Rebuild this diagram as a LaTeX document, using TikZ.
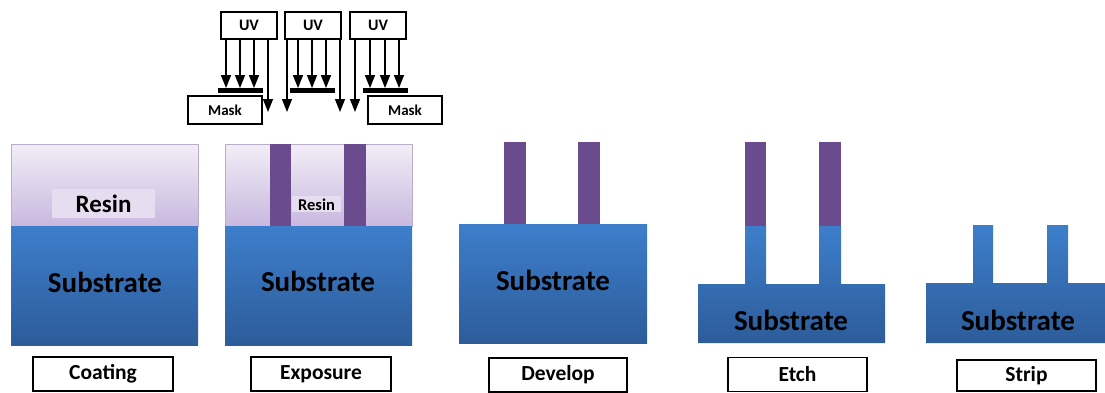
\documentclass[tikz,border=0pt]{standalone}
\usepackage{fontspec}
\setmainfont{Carlito}
\usetikzlibrary{arrows.meta}
\definecolor{subtop}{RGB}{61,126,203}
\definecolor{subbot}{RGB}{45,92,154}
\definecolor{restop}{RGB}{242,238,247}
\definecolor{resbot}{RGB}{201,184,223}
\definecolor{expcol}{RGB}{106,75,141}
\definecolor{reslab}{RGB}{230,222,240}
\tikzset{
substrate/.style={top color=subtop,bottom color=subbot},
resinlayer/.style={top color=restop,bottom color=resbot,draw=resbot!80!gray,line width=0.6pt},
exposed/.style={fill=expcol},
subtext/.style={font=\bfseries\fontsize{29}{30}\selectfont},
stepname/.style={draw,line width=1.6pt,fill=white,minimum width=140pt,minimum height=34pt,font=\bfseries\fontsize{21.5}{24}\selectfont},
uvbox/.style={draw,line width=1.5pt,fill=white,minimum width=56pt,minimum height=27pt,font=\bfseries\fontsize{16}{18}\selectfont},
maskbox/.style={draw,line width=1.5pt,fill=white,minimum width=74pt,minimum height=28pt,font=\bfseries\fontsize{15}{17}\selectfont},
maskbar/.style={fill=black,minimum width=45pt,minimum height=4.5pt,inner sep=0pt},
ray/.style={line width=1.4pt,-{Triangle[length=13pt,width=10pt]}}
}
\begin{document}
\begin{tikzpicture}[x=1pt,y=-1pt]
\useasboundingbox (0,0) rectangle (1105,392);
\node[uvbox] (uv1) at (249,25.5) {UV};
\node[uvbox] (uv2) at (313,25.5) {UV};
\node[uvbox] (uv3) at (378,25.5) {UV};
\node[maskbar] (bar1) at (240.5,90.5) {};
\node[maskbar] (bar2) at (312.5,90.5) {};
\node[maskbar] (bar3) at (385.5,90.5) {};
\node[maskbox] (mask1) at (225,110) {Mask};
\node[maskbox] (mask2) at (405,110) {Mask};
\foreach \x in {226,240,254} \draw[ray] (\x,0 |- uv1.south) -- (\x,0 |- bar1.north);
\foreach \x in {298,312,326} \draw[ray] (\x,0 |- uv2.south) -- (\x,0 |- bar2.north);
\foreach \x in {370,385,399} \draw[ray] (\x,0 |- uv3.south) -- (\x,0 |- bar3.north);
\coordinate (tip1) at (268,112);
\coordinate (tip2) at (287,112);
\coordinate (tip3) at (340,112);
\coordinate (tip4) at (355,112);
\draw[ray] (tip1 |- uv1.south) -- (tip1);
\draw[ray] (tip2 |- uv2.south) -- (tip2);
\draw[ray] (tip3 |- uv2.south) -- (tip3);
\draw[ray] (tip4 |- uv3.south) -- (tip4);

\shade[resinlayer] (11,144) rectangle (198,226);
\fill[reslab] (52,189) rectangle (155,218);
\node[font=\bfseries\fontsize{25}{26}\selectfont] (resin1) at (103.5,203.5) {Resin};
\shade[substrate] (11,226) rectangle (198,345);
\node[subtext] (sub1) at (105,282) {Substrate};
\node[stepname] (coating) at (103,374) {Coating};

\shade[resinlayer] (225,144) rectangle (412,226);
\fill[exposed] (270,144) rectangle (291,226);
\fill[exposed] (344,144) rectangle (366,226);
\fill[reslab] (292,196) rectangle (341,212);
\node[font=\bfseries\fontsize{16.5}{18}\selectfont] (resin2) at (316.5,204.5) {Resin};
\shade[substrate] (225,226) rectangle (412,345);
\node[subtext] (sub2) at (318,281) {Substrate};
\node[stepname] (exposure) at (321,374) {Exposure};

\fill[exposed] (504,142) rectangle (526,224);
\fill[exposed] (578,142) rectangle (600,224);
\shade[substrate] (459,224) rectangle (647,343);
\node[subtext] (sub3) at (553,280) {Substrate};
\node[stepname,minimum width=138pt] (develop) at (558,375) {Develop};

\fill[exposed] (745,142) rectangle (766,226);
\fill[exposed] (819,142) rectangle (841,226);
\shade[substrate] (698,343) -- (698,284) -- (745,284) -- (745,226) -- (766,226) -- (766,284) -- (819,284) -- (819,226) -- (841,226) -- (841,284) -- (885,284) -- (885,343) -- cycle;
\node[subtext] (sub4) at (791,320) {Substrate};
\node[stepname,minimum width=139pt] (etch) at (797.5,374.5) {Etch};

\shade[substrate] (926,343) -- (926,283) -- (973,283) -- (973,225) -- (993,225) -- (993,283) -- (1047,283) -- (1047,225) -- (1068,225) -- (1068,283) -- (1110,283) -- (1110,343) -- cycle;
\node[subtext] (sub5) at (1018,320) {Substrate};
\node[stepname,minimum width=139pt,minimum height=31pt] (strip) at (1026.5,375.5) {Strip};
\end{tikzpicture}
\end{document}
